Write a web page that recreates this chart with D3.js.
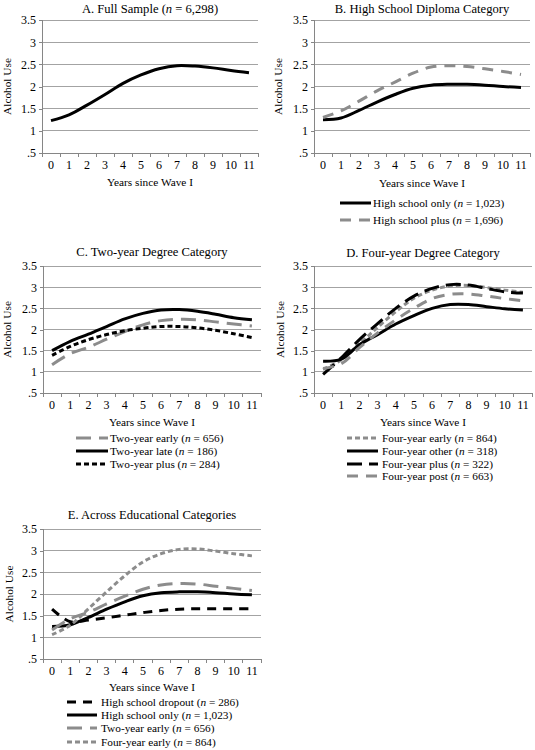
<!DOCTYPE html>
<html><head><meta charset="utf-8">
<script src="https://cdn.jsdelivr.net/npm/d3@7"></script>
<style>
body{margin:0;background:#fff}
svg{display:block}
text{font-family:"Liberation Serif","Times New Roman",serif;fill:#000}
</style>
</head><body>
<svg id="chart" width="535" height="750"></svg>
<script>
// ---------- data ----------
const years = [0,1,2,3,4,5,6,7,8,9,10,11];
const yTickValues = [0.5,1,1.5,2,2.5,3,3.5];
const yTickLabels = [".5","1","1.5","2","2.5","3","3.5"];

const fullSample      = [1.23,1.36,1.58,1.82,2.07,2.26,2.40,2.47,2.46,2.42,2.36,2.31];
const hsOnly          = [1.25,1.29,1.46,1.65,1.82,1.96,2.03,2.05,2.05,2.03,2.00,1.98];
const hsPlus          = [1.30,1.45,1.67,1.90,2.10,2.30,2.44,2.47,2.45,2.40,2.34,2.27];
const twoYearEarly    = [1.17,1.43,1.58,1.77,1.95,2.11,2.21,2.24,2.23,2.18,2.13,2.08];
const twoYearLate     = [1.50,1.72,1.89,2.07,2.25,2.38,2.46,2.47,2.43,2.36,2.28,2.23];
const twoYearPlus     = [1.39,1.60,1.76,1.88,1.97,2.03,2.07,2.07,2.04,1.98,1.90,1.81];
const fourYearEarly   = [1.06,1.28,1.66,2.05,2.42,2.74,2.93,3.03,3.04,2.99,2.93,2.88];
const fourYearOther   = [1.25,1.30,1.64,1.88,2.13,2.33,2.50,2.59,2.59,2.54,2.49,2.46];
const fourYearPlus    = [0.94,1.33,1.76,2.14,2.50,2.79,2.97,3.06,3.05,2.97,2.89,2.86];
const fourYearPost    = [1.08,1.19,1.57,1.92,2.23,2.50,2.73,2.83,2.84,2.79,2.73,2.68];
const hsDropout       = [1.65,1.36,1.40,1.45,1.51,1.57,1.62,1.65,1.66,1.66,1.66,1.66];

// ---------- styles ----------
const GRAY = "#8c8c8c";
const styles = {
  solid:      {stroke:"#000", dash:null},
  blackShort: {stroke:"#000", dash:"5,3"},
  blackLong:  {stroke:"#000", dash:"15,7"},
  blackDash:  {stroke:"#000", dash:"9,7"},
  grayShort:  {stroke:GRAY,   dash:"5,3"},
  grayLong:   {stroke:GRAY,   dash:"15,8"},
  grayDash:   {stroke:GRAY,   dash:"11,8"}
};

const FS_TITLE = 12.6, FS_AXT = 11.3, FS_LEG = 11.3, FS_TICK = 12;

const panels = [
  {title:["A. Full Sample (", "6,298", ")"], left:42, right:258, top:20, bottom:153,
   titleY:13, labelY:169, xTitleY:186, yLabX:11,
   series:[{values:fullSample, style:"solid"}], legend:null},
  {title:["B. High School Diploma Category"], left:314, right:530, top:20, bottom:153,
   titleY:13, labelY:169, xTitleY:187, yLabX:282,
   series:[{name:"High school only", n:"1,023", values:hsOnly, style:"solid"},
           {name:"High school plus", n:"1,696", values:hsPlus, style:"grayDash"}],
   legend:{x1:340, x2:371, tx:373, rows:[203,220]}},
  {title:["C. Two-year Degree Category"], left:43, right:261, top:266, bottom:393,
   titleY:256, labelY:409, xTitleY:426, yLabX:11,
   series:[{name:"Two-year early", n:"656", values:twoYearEarly, style:"grayLong"},
           {name:"Two-year late", n:"186", values:twoYearLate, style:"solid"},
           {name:"Two-year plus", n:"284", values:twoYearPlus, style:"blackShort"}],
   legend:{x1:76, x2:108, tx:110, rows:[438,451,464]}},
  {title:["D. Four-year Degree Category"], left:314, right:532, top:266, bottom:393,
   titleY:257, labelY:409, xTitleY:426, yLabX:284,
   series:[{name:"Four-year early", n:"864", values:fourYearEarly, style:"grayShort"},
           {name:"Four-year other", n:"318", values:fourYearOther, style:"solid"},
           {name:"Four-year plus", n:"322", values:fourYearPlus, style:"blackLong"},
           {name:"Four-year post", n:"663", values:fourYearPost, style:"grayDash"}],
   legend:{x1:347, x2:378, tx:382, rows:[438,451,464,476]}},
  {title:["E. Across Educational Categories"], left:43, right:261, top:529, bottom:659,
   titleY:519, labelY:675, xTitleY:691, yLabX:13,
   series:[{name:"High school dropout", n:"286", values:hsDropout, style:"blackDash"},
           {name:"High school only", n:"1,023", values:hsOnly, style:"solid"},
           {name:"Two-year early", n:"656", values:twoYearEarly, style:"grayLong"},
           {name:"Four-year early", n:"864", values:fourYearEarly, style:"grayShort"}],
   legend:{x1:67, x2:97, tx:101, rows:[702,715,728,742]}}
];

const svg = d3.select("#chart");

function nText(sel, name, n){
  sel.append("tspan").text(name + " (");
  sel.append("tspan").attr("font-style","italic").text("n");
  sel.append("tspan").text(" = " + n + ")");
}

panels.forEach(p => {
  const g = svg.append("g");
  const xBand = d3.scaleBand().domain(years).range([p.left, p.right]);
  const xc = d => xBand(d) + xBand.bandwidth()/2;
  const y = d3.scaleLinear().domain([0.5,3.5]).range([p.bottom, p.top]);
  const cx = (p.left + p.right)/2;

  // gridlines
  g.selectAll("line.grid").data(yTickValues.slice(1)).join("line")
    .attr("x1", p.left).attr("x2", p.right)
    .attr("y1", d => y(d)).attr("y2", d => y(d))
    .attr("stroke", "#a3a3a3").attr("stroke-width", 1).attr("shape-rendering","crispEdges");

  // y axis
  const yAxis = d3.axisLeft(y).tickValues(yTickValues)
    .tickFormat((d,i) => yTickLabels[i]).tickSize(3).tickPadding(3);
  const ya = g.append("g").attr("transform", `translate(${p.left},0)`).call(yAxis);
  ya.select(".domain").attr("stroke","#868686").attr("shape-rendering","crispEdges");
  ya.selectAll(".tick line").attr("stroke","#868686").attr("shape-rendering","crispEdges");
  ya.selectAll("text").attr("font-size", FS_TICK).attr("font-family","Liberation Serif");

  // x axis
  const xAxis = d3.axisBottom(xBand).tickSize(0).tickPadding(0);
  const xa = g.append("g").attr("transform", `translate(0,${p.bottom})`).call(xAxis);
  xa.select(".domain").attr("stroke","#868686").attr("shape-rendering","crispEdges");
  xa.selectAll(".tick text").attr("font-size", FS_TICK).attr("font-family","Liberation Serif")
    .attr("dy", null).attr("y", p.labelY - p.bottom);
  const edges = years.map(d => xBand(d)).concat([p.right]);
  g.selectAll("line.xt").data(edges).join("line")
    .attr("x1", d => d).attr("x2", d => d)
    .attr("y1", p.bottom).attr("y2", p.bottom + 4)
    .attr("stroke","#868686").attr("shape-rendering","crispEdges");

  // title
  const t = g.append("text").attr("x", cx).attr("y", p.titleY)
    .attr("text-anchor","middle").attr("font-size", FS_TITLE);
  if (p.title.length === 3) {
    t.append("tspan").text(p.title[0]);
    t.append("tspan").attr("font-style","italic").text("n");
    t.append("tspan").text(" = " + p.title[1] + p.title[2]);
  } else t.text(p.title[0]);

  // axis titles
  g.append("text").attr("x", cx).attr("y", p.xTitleY).attr("text-anchor","middle")
    .attr("font-size", FS_AXT).text("Years since Wave I");
  g.append("text").attr("transform", `translate(${p.yLabX},${(p.top+p.bottom)/2}) rotate(-90)`)
    .attr("text-anchor","middle").attr("font-size", FS_AXT).text("Alcohol Use");

  // lines
  const line = d3.line().x((d,i) => xc(years[i])).y(d => y(d))
    .curve(d3.curveCatmullRom.alpha(0.5));
  p.series.forEach(s => {
    const st = styles[s.style];
    g.append("path").datum(s.values).attr("d", line)
      .attr("fill","none").attr("stroke", st.stroke).attr("stroke-width", 3)
      .attr("stroke-dasharray", st.dash);
  });

  // legend
  if (p.legend) {
    p.series.forEach((s, i) => {
      const st = styles[s.style];
      const ry = p.legend.rows[i];
      g.append("line").attr("x1", p.legend.x1).attr("x2", p.legend.x2)
        .attr("y1", ry).attr("y2", ry)
        .attr("stroke", st.stroke).attr("stroke-width", 3).attr("stroke-dasharray", st.dash);
      const tx = g.append("text").attr("x", p.legend.tx).attr("y", ry + 4)
        .attr("font-size", FS_LEG);
      nText(tx, s.name, s.n);
    });
  }
});
</script>
</body></html>
